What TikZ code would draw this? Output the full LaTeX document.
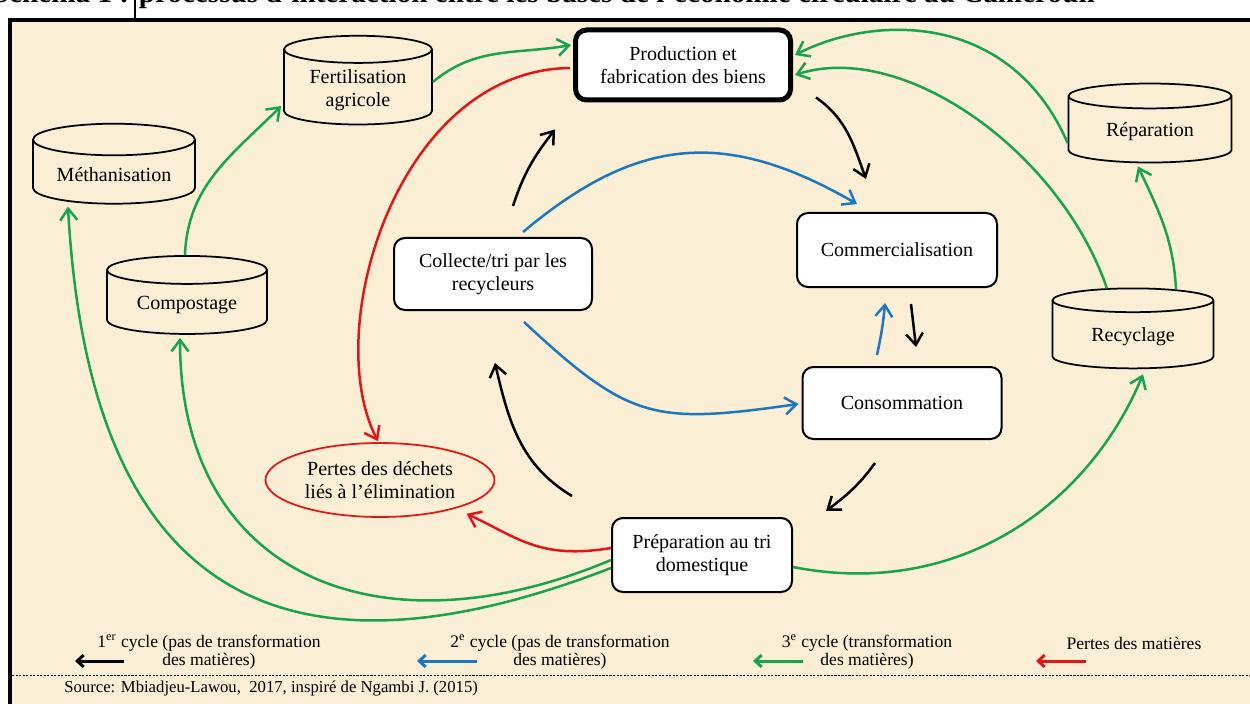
\documentclass[tikz,border=0pt]{standalone}
\usepackage{fontspec}
\setmainfont{Liberation Serif}
\usetikzlibrary{arrows.meta,shapes.geometric,positioning}

\definecolor{parchemin}{RGB}{250,238,213}
\definecolor{cvert}{RGB}{24,163,76}
\definecolor{cbleu}{RGB}{30,118,190}
\definecolor{crouge}{RGB}{226,22,22}

\tikzset{
  etape/.style={draw, rounded corners=2.2mm, line width=0.4mm, fill=white, align=center,
    font=\fontsize{11.4}{12.8}\selectfont},
  cuve/.style={draw, cylinder, shape border rotate=90, aspect=0.25, line width=0.35mm,
    align=center, font=\fontsize{11.4}{12.8}\selectfont},
  perte/.style={draw=crouge, ellipse, line width=0.35mm, align=center,
    font=\fontsize{11.4}{12.8}\selectfont},
  legende/.style={align=center, inner sep=0pt, font=\fontsize{10}{10.4}\selectfont},
  cyc1/.style={->, line width=0.5mm, black},
  cyc2/.style={->, line width=0.5mm, cbleu},
  cyc3/.style={->, line width=0.5mm, cvert},
  cyc4/.style={->, line width=0.5mm, crouge},
  petite/.style={line width=0.6mm, >={Straight Barb[length=1.3mm,width=2.4mm]}}
}

\begin{document}
\begin{tikzpicture}[x=0.2mm, y=0.2mm, >={Straight Barb[length=2.3mm,width=3.4mm]}]
  % Cadre
  \useasboundingbox (0,0) rectangle (1250,-704);
  \fill[parchemin] (10,-20) rectangle (1250,-704);
  \draw[line width=0.8mm] (10,-704) -- (10,-20) -- (1250,-20);
  \draw[line width=0.3mm] (135,0) -- (135,-20);
  \node[anchor=base east, inner sep=0pt, font=\bfseries\fontsize{16.6}{19}\selectfont] (titre) at (1095,-3)
    {Schéma 1 : processus d’interaction entre les bases de l’économie circulaire au Cameroun};

  % Noeuds
  \node[etape, line width=1mm, minimum width=4.3cm, minimum height=1.4cm] (prod) at (683,-65) {Production et\\fabrication des biens};
  \node[etape, minimum width=4cm, minimum height=1.48cm] (comm) at (897,-250) {Commercialisation};
  \node[etape, minimum width=3.98cm, minimum height=1.44cm] (cons) at (902,-403) {Consommation};
  \node[etape, minimum width=3.6cm, minimum height=1.48cm] (prep) at (702,-555) {Préparation au tri\\domestique};
  \node[etape, minimum width=3.96cm, minimum height=1.44cm] (coll) at (493,-274) {Collecte/tri par les\\recycleurs};
  \node[perte, minimum width=4.36cm, minimum height=1.48cm] (pertes) at (380,-480) {Pertes des déchets\\liés à l’élimination};
  \node[cuve, minimum width=2.96cm, minimum height=1.56cm] (fert) at (358,-90) {Fertilisation\\agricole};
  \node[cuve, minimum width=3.24cm, minimum height=1.6cm] (meth) at (114,-175) {Méthanisation};
  \node[cuve, minimum width=3.2cm, minimum height=1.56cm] (comp) at (187,-305) {Compostage};
  \node[cuve, minimum width=3.26cm, minimum height=1.58cm] (rep) at (1150,-132) {Réparation};
  \node[cuve, minimum width=3.22cm, minimum height=1.6cm] (recy) at (1133,-337) {Recyclage};

  % 1er cycle
  \draw[cyc1] ([shift={(23,5)}]prod.south east) to[out=-35,in=110] ([shift={(-31,33)}]comm.north);
  \draw[cyc1] ([shift={(14,-16)}]comm.south) -- ([shift={(14,19)}]cons.north);
  \draw[cyc1] ([shift={(-27,-23)}]cons.south) to[out=-126,in=37] ([shift={(33,6)}]prep.north east);
  \draw[cyc1] ([shift={(-39,21)}]prep.north west) to[out=149,in=-77] ([shift={(2,-52)}]coll.south);
  \draw[cyc1] ([shift={(20,31)}]coll.north) to[out=72,in=232] ([shift={(-18,-27)}]prod.south west);

  % 2e cycle
  \draw[cyc2] ([shift={(30,5)}]coll.north) to[out=40,in=150,looseness=1.15] ([shift={(61,8)}]comm.north west);
  \draw[cyc2] ([shift={(31,-11)}]coll.south) to[out=-43,in=188,looseness=1.3] ([shift={(-3,-1)}]cons.west);
  \draw[cyc2] ([shift={(-25,11)}]cons.north) to[out=78,in=-95] ([shift={(-12,-15)}]comm.south);

  % Pertes
  \draw[cyc4] ([shift={(-3,-3)}]prod.west) .. controls +(-172,-2) and +(-58,112) .. ([shift={(-2,1)}]pertes.north);
  \draw[cyc4] ([shift={(0,7)}]prep.west) .. controls +(-72,-12) and +(50,-23) .. ([shift={(5,-7)}]pertes.south east);

  % 3e cycle
  \draw[cyc3] ([shift={(0,8)}]fert.east) to[out=40,in=190] ([shift={(-2,20)}]prod.west);
  \draw[cyc3] ([shift={(-2,0)}]comp.north) to[out=88,in=225] ([shift={(-2,-16)}]fert.west);
  \draw[cyc3] ([shift={(0,-5)}]prep.west) .. controls +(-230,-97) and +(0,-240) .. ([shift={(-7,-3)}]comp.south);
  \draw[cyc3] ([shift={(0,-13)}]prep.west) .. controls +(-316,-122) and +(22,-404) .. ([shift={(-46,-2)}]meth.south);
  \draw[cyc3] ([shift={(0,-12)}]prep.east) .. controls +(168,-33) and +(-53,-128) .. ([shift={(10,-5)}]recy.south);
  \draw[cyc3] ([shift={(43,-2)}]recy.north) to[out=93,in=-65] ([shift={(-12,-3)}]rep.south);
  \draw[cyc3] ([shift={(-26,-1)}]recy.north) .. controls +(-47,137) and +(108,35) .. ([shift={(2,-10)}]prod.east);
  \draw[cyc3] ([shift={(0,-11)}]rep.west) .. controls +(-58,133) and +(78,40) .. ([shift={(2,10)}]prod.east);

  % Legende
  \node[legende] (leg1) at (209,-652) {1\textsuperscript{er} cycle (pas de transformation\\des matières)};
  \node[legende] (leg2) at (560,-652) {2\textsuperscript{e} cycle (pas de transformation\\des matières)};
  \node[legende] (leg3) at (867,-652) {3\textsuperscript{e} cycle (transformation\\des matières)};
  \node[legende] (leg4) at (1134,-643) {Pertes des matières};
  \coordinate (k1d) at (124,-661); \coordinate (k1f) at (75,-661);
  \coordinate (k2d) at (477,-661); \coordinate (k2f) at (417,-661);
  \coordinate (k3d) at (803,-661); \coordinate (k3f) at (753,-661);
  \coordinate (k4d) at (1086,-661); \coordinate (k4f) at (1036,-661);
  \draw[cyc1, petite] (k1d) -- (k1f);
  \draw[cyc2, petite] (k2d) -- (k2f);
  \draw[cyc3, petite] (k3d) -- (k3f);
  \draw[cyc4, petite] (k4d) -- (k4f);

  \draw[dash pattern=on 1.2pt off 0.8pt, line width=0.15mm] (12,-675) -- (1250,-675);
  \node[anchor=west, inner sep=0pt, font=\fontsize{9.5}{11}\selectfont] (source) at (64,-688)
    {Source: Mbiadjeu-Lawou,~ 2017, inspiré de Ngambi J. (2015)};
\end{tikzpicture}
\end{document}
